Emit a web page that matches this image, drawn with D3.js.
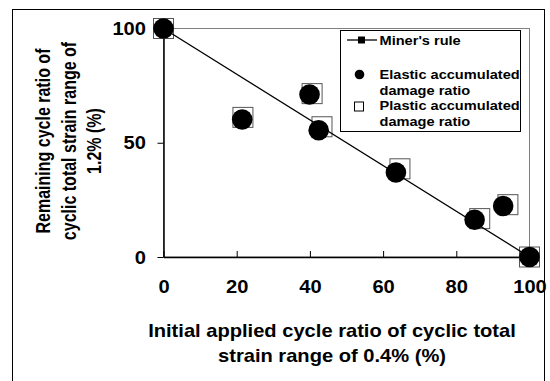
<!DOCTYPE html>
<html>
<head>
<meta charset="utf-8">
<script src="https://cdn.jsdelivr.net/npm/d3@7"></script>
<style>
  body { margin: 0; background: #fff; }
  text { font-family: "Liberation Sans", Arial, sans-serif; font-weight: bold; fill: #000; }
</style>
</head>
<body>
<div id="chart"></div>
<script>
// data
const xTicks = [0, 20, 40, 60, 80, 100];
const yTicks = [0, 50, 100];

const minerX = [0, 100];
const minerY = [100, 0];

const elasticX = [0, 21.5, 39.9, 42.4, 63.5, 85.0, 92.8, 100];
const elasticY = [100, 60.2, 71.1, 55.5, 37.0, 16.3, 22.3, 0];

const plasticX = [0, 21.7, 40.6, 43.3, 64.6, 86.4, 94.1, 100];
const plasticY = [100, 61.1, 71.5, 57.0, 38.6, 16.8, 22.9, 0];

const xTitle = ["Initial applied cycle ratio of cyclic total", "strain range of 0.4% (%)"];
const yTitle = ["Remaining cycle ratio of", "cyclic total strain range of", "1.2% (%)"];
const legendLabels = [["Miner's rule"], ["Elastic accumulated", "damage ratio"], ["Plastic accumulated", "damage ratio"]];

// the source picture is a bit wider than tall, text glyphs look stretched
const stretch = 1.15;

const dimensions = {
  width: 550,
  height: 381,
  marginTop: 28.5,
  marginLeft: 163.5,
  marginRight: 20.5,
  marginBottom: 124,
};
dimensions.boundedWidth = dimensions.width - dimensions.marginLeft - dimensions.marginRight;
dimensions.boundedHeight = dimensions.height - dimensions.marginTop - dimensions.marginBottom;

const wrapper = d3.select("#chart")
  .append("svg")
    .attr("width", dimensions.width)
    .attr("height", dimensions.height);

// outer chart frame
wrapper.append("rect")
  .attr("x", 12.5).attr("y", 9.5)
  .attr("width", 532).attr("height", 400)
  .attr("fill", "none").attr("stroke", "#000").attr("stroke-width", 1);

const bounds = wrapper.append("g")
  .attr("transform", `translate(${dimensions.marginLeft}, ${dimensions.marginTop})`);

const xScale = d3.scaleLinear().domain([0, 100]).range([0, dimensions.boundedWidth]);
const yScale = d3.scaleLinear().domain([0, 100]).range([dimensions.boundedHeight, 0]);

// plot area border
bounds.append("rect")
  .attr("width", dimensions.boundedWidth).attr("height", dimensions.boundedHeight)
  .attr("fill", "none").attr("stroke", "#808080").attr("stroke-width", 1);

// axes
const xAxis = bounds.append("g")
  .attr("transform", `translate(0, ${dimensions.boundedHeight})`)
  .call(d3.axisBottom(xScale).tickValues(xTicks).tickSizeInner(-6).tickSizeOuter(0).tickPadding(24));
const yAxis = bounds.append("g")
  .call(d3.axisLeft(yScale).tickValues(yTicks).tickSizeInner(6).tickSizeOuter(0));

[xAxis, yAxis].forEach(ax => {
  ax.select(".domain").attr("stroke", "#000").attr("stroke-width", 1.5);
  ax.selectAll(".tick line").attr("stroke", "#000").attr("stroke-width", 1);
  ax.selectAll(".tick text")
    .style("font-size", "17.5px")
    .style("font-family", "'Liberation Sans', Arial, sans-serif")
    .style("font-weight", "bold");
});
xAxis.selectAll(".tick text").attr("transform", `scale(${stretch},1)`);
yAxis.selectAll(".tick text")
  .attr("x", 0).attr("dy", "0.35em")
  .attr("transform", `translate(-17.5,0) scale(${stretch},1)`);

// plastic squares (behind)
const sq = 20;
bounds.selectAll(".plastic")
  .data(d3.range(plasticX.length))
  .join("rect")
    .attr("class", "plastic")
    .attr("x", i => xScale(plasticX[i]) - sq / 2)
    .attr("y", i => yScale(plasticY[i]) - sq / 2)
    .attr("width", sq).attr("height", sq)
    .attr("fill", "#fff").attr("stroke", "#555").attr("stroke-width", 1);

// miner's rule line
const lineGenerator = d3.line()
  .x(i => xScale(minerX[i]))
  .y(i => yScale(minerY[i]));
bounds.append("path")
  .attr("d", lineGenerator(d3.range(minerX.length)))
  .attr("fill", "none").attr("stroke", "#000").attr("stroke-width", 1.3);

// elastic circles
bounds.selectAll(".elastic")
  .data(d3.range(elasticX.length))
  .join("circle")
    .attr("class", "elastic")
    .attr("cx", i => xScale(elasticX[i]))
    .attr("cy", i => yScale(elasticY[i]))
    .attr("r", 10.3)
    .attr("fill", "#000");

// axis titles
xTitle.forEach((t, i) => {
  wrapper.append("text")
    .attr("text-anchor", "middle")
    .attr("transform", `translate(332, ${336.5 + i * 25.7}) scale(${stretch},1)`)
    .style("font-size", "17.5px")
    .text(t);
});

yTitle.forEach((t, i) => {
  wrapper.append("text")
    .attr("text-anchor", "middle")
    .attr("transform", `translate(${50 + i * 25.5}, 141) rotate(-90) scale(1,1.25)`)
    .style("font-size", "16px")
    .text(t);
});

// legend
const legend = wrapper.append("g");
legend.append("rect")
  .attr("x", 340.5).attr("y", 30.5).attr("width", 180).attr("height", 101)
  .attr("fill", "#fff").attr("stroke", "#000").attr("stroke-width", 1);

legend.append("line")
  .attr("x1", 347).attr("x2", 377).attr("y1", 40).attr("y2", 40)
  .attr("stroke", "#000").attr("stroke-width", 1.3);
legend.append("rect")
  .attr("x", 358).attr("y", 36.5).attr("width", 7).attr("height", 7).attr("fill", "#000");
legend.append("circle")
  .attr("cx", 359.5).attr("cy", 74.5).attr("r", 4.8).attr("fill", "#000");
legend.append("rect")
  .attr("x", 354.5).attr("y", 102).attr("width", 9).attr("height", 9)
  .attr("fill", "#fff").attr("stroke", "#000").attr("stroke-width", 1);

const legendBaselines = [[44.5], [79, 94.5], [110, 125.5]];
legendLabels.forEach((lines, i) => {
  lines.forEach((t, j) => {
    legend.append("text")
      .attr("transform", `translate(379.5, ${legendBaselines[i][j]}) scale(1.08,1)`)
      .style("font-size", "13.5px")
      .text(t);
  });
});
</script>
</body>
</html>
